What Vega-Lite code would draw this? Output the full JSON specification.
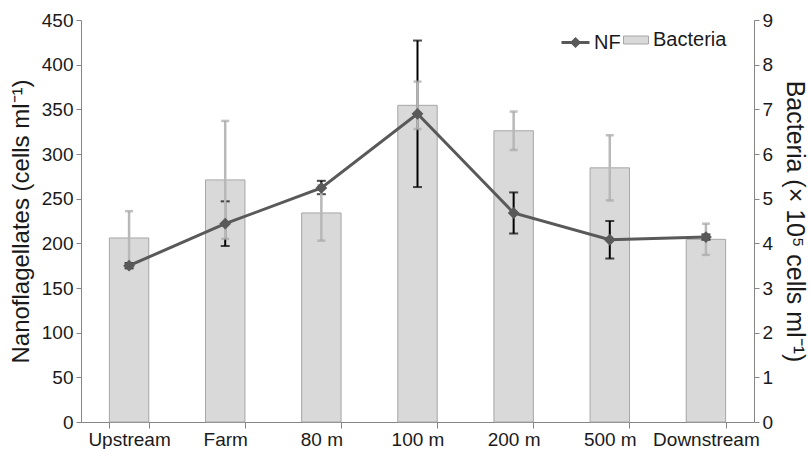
{
  "$schema": "https://vega.github.io/schema/vega-lite/v6.json",
  "width": 673,
  "height": 402,
  "autosize": {"type": "none"},
  "padding": {"left": 81, "top": 20, "right": 55, "bottom": 27},
  "background": "white",
  "config": {
    "view": {"stroke": null},
    "font": "Liberation Sans",
    "axis": {
      "labelFont": "Liberation Sans",
      "titleFont": "Liberation Sans",
      "labelFontSize": 19,
      "titleFontSize": 24,
      "titleFontWeight": "normal",
      "labelColor": "#1a1a1a",
      "titleColor": "#1a1a1a",
      "domainColor": "#868686",
      "tickColor": "#868686",
      "grid": false
    },
    "legend": {"labelFont": "Liberation Sans", "labelFontSize": 20, "labelColor": "#1a1a1a"}
  },
  "data": {
    "values": [
      {"site": "Upstream", "bact": 4.12, "bact_lo": 3.52, "bact_hi": 4.72, "nf": 175, "nf_lo": 172, "nf_hi": 178},
      {"site": "Farm", "bact": 5.42, "bact_lo": 4.10, "bact_hi": 6.74, "nf": 222, "nf_lo": 197, "nf_hi": 247},
      {"site": "80 m", "bact": 4.68, "bact_lo": 4.06, "bact_hi": 5.30, "nf": 262, "nf_lo": 255, "nf_hi": 270},
      {"site": "100 m", "bact": 7.09, "bact_lo": 6.56, "bact_hi": 7.62, "nf": 345, "nf_lo": 263, "nf_hi": 427},
      {"site": "200 m", "bact": 6.52, "bact_lo": 6.09, "bact_hi": 6.95, "nf": 234, "nf_lo": 211, "nf_hi": 257},
      {"site": "500 m", "bact": 5.69, "bact_lo": 4.96, "bact_hi": 6.42, "nf": 204, "nf_lo": 183, "nf_hi": 225},
      {"site": "Downstream", "bact": 4.09, "bact_lo": 3.74, "bact_hi": 4.44, "nf": 207, "nf_lo": 204, "nf_hi": 210}
    ]
  },
  "encoding": {
    "x": {
      "field": "site",
      "type": "nominal",
      "sort": null,
      "scale": {"paddingInner": 0.59, "paddingOuter": 0.295},
      "axis": {"title": null, "labelAngle": 0, "tickBand": "extent", "tickSize": 6, "labelPadding": 2}
    }
  },
  "layer": [
    {
      "mark": {"type": "bar", "stroke": "#a6a6a6", "strokeWidth": 1},
      "encoding": {
        "y": {
          "field": "bact",
          "type": "quantitative",
          "scale": {"domain": [0, 9], "nice": false},
          "axis": {
            "orient": "right",
            "values": [0, 1, 2, 3, 4, 5, 6, 7, 8, 9],
            "title": "Bacteria (× 10⁵ cells ml⁻¹)",
            "tickSize": 5,
            "labelPadding": 3,
            "titlePadding": 9,
            "titleAngle": 90,
            "titleFontSize": 25
          }
        },
        "fill": {
          "datum": "Bacteria",
          "type": "nominal",
          "scale": {"range": ["#d9d9d9"]},
          "legend": {
            "title": null,
            "orient": "none",
            "legendX": 542,
            "legendY": 7,
            "padding": 0,
            "symbolType": "M-1,-0.32H1V0.32H-1Z",
            "symbolSize": 625,
            "symbolStrokeColor": "#a6a6a6",
            "symbolStrokeWidth": 1,
            "labelOffset": 4
          }
        }
      }
    },
    {
      "mark": {"type": "rule", "color": "#000000", "strokeWidth": 2},
      "encoding": {
        "y": {"field": "nf_lo", "type": "quantitative", "scale": {"domain": [0, 450], "nice": false}, "axis": null},
        "y2": {"field": "nf_hi"}
      }
    },
    {
      "mark": {"type": "tick", "color": "#000000", "size": 9, "thickness": 2},
      "encoding": {
        "y": {"field": "nf_lo", "type": "quantitative", "scale": {"domain": [0, 450], "nice": false}, "axis": null}
      }
    },
    {
      "mark": {"type": "tick", "color": "#000000", "size": 9, "thickness": 2},
      "encoding": {
        "y": {"field": "nf_hi", "type": "quantitative", "scale": {"domain": [0, 450], "nice": false}, "axis": null}
      }
    },
    {
      "mark": {"type": "rule", "color": "#b8b8b8", "strokeWidth": 2.5},
      "encoding": {
        "y": {"field": "bact_lo", "type": "quantitative", "scale": {"domain": [0, 9], "nice": false}, "axis": null},
        "y2": {"field": "bact_hi"}
      }
    },
    {
      "mark": {"type": "tick", "color": "#a6a6a6", "size": 8, "thickness": 2.5},
      "encoding": {
        "y": {"field": "bact_lo", "type": "quantitative", "scale": {"domain": [0, 9], "nice": false}, "axis": null}
      }
    },
    {
      "mark": {"type": "tick", "color": "#a6a6a6", "size": 8, "thickness": 2.5},
      "encoding": {
        "y": {"field": "bact_hi", "type": "quantitative", "scale": {"domain": [0, 9], "nice": false}, "axis": null}
      }
    },
    {
      "mark": {"type": "line", "strokeWidth": 3},
      "encoding": {
        "y": {
          "field": "nf",
          "type": "quantitative",
          "scale": {"domain": [0, 450], "nice": false},
          "axis": {
            "orient": "left",
            "values": [0, 50, 100, 150, 200, 250, 300, 350, 400, 450],
            "title": "Nanoflagellates (cells ml⁻¹)",
            "tickSize": 5,
            "labelPadding": 3,
            "titlePadding": 8
          }
        },
        "stroke": {
          "datum": "NF",
          "type": "nominal",
          "scale": {"range": ["#595959"]},
          "legend": {
            "title": null,
            "orient": "none",
            "legendX": 479,
            "legendY": 7,
            "padding": 0,
            "symbolType": "M-1,0H1M-0.25,0L0,-0.25L0.25,0L0,0.25Z",
            "symbolSize": 784,
            "symbolStrokeWidth": 3,
            "symbolStrokeColor": "#595959",
            "symbolFillColor": "#595959",
            "labelOffset": 3
          }
        }
      }
    },
    {
      "mark": {"type": "point", "shape": "diamond", "filled": true, "color": "#595959", "size": 140, "opacity": 1},
      "encoding": {
        "y": {"field": "nf", "type": "quantitative", "scale": {"domain": [0, 450], "nice": false}, "axis": null}
      }
    }
  ],
  "resolve": {"scale": {"y": "independent"}}
}
